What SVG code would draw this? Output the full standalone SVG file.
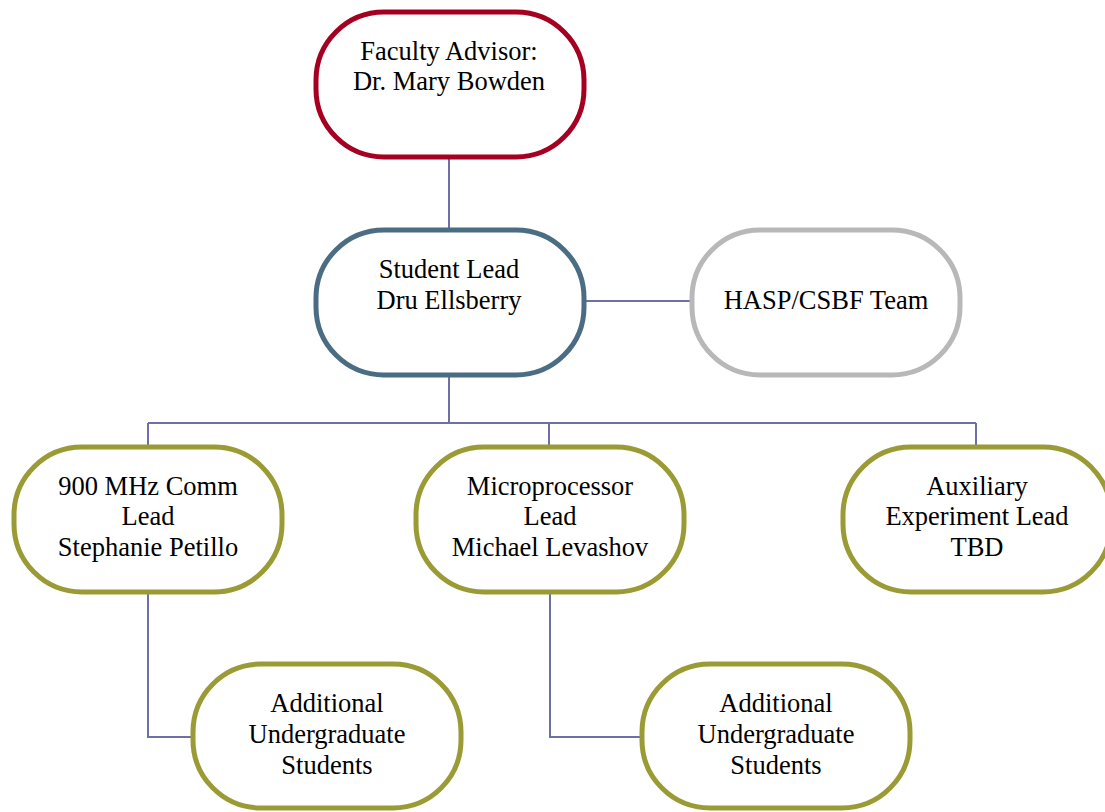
<svg xmlns="http://www.w3.org/2000/svg" width="1105" height="812" viewBox="0 0 1105 812">
<style>
.box{fill:#fff;stroke-width:5}
.red{stroke:#A50021}
.slate{stroke:#4B6D83}
.gray{stroke:#B8B8B8}
.olive{stroke:#9B9B35}
.t{font-family:"Liberation Serif","Times New Roman",serif;font-size:26.5px;fill:#000;text-anchor:middle}
.c{fill:none;stroke:#6E6EA8;stroke-width:2}
</style>
<rect width="1105" height="812" fill="#fff"/>
<g id="connectors">
<path class="c" d="M449,157V230"/>
<path class="c" d="M584,301H690"/>
<path class="c" d="M449,375V423M148,423H976M148,423V446M549,423V446M976,423V446"/>
<path class="c" d="M148,592V737H192"/>
<path class="c" d="M550,592V737H641"/>
</g>
<g id="faculty">
<rect class="box red" x="316" y="12" width="268" height="145" rx="68"/>
<text class="t" x="449" y="60">Faculty Advisor:</text>
<text class="t" x="449" y="90">Dr. Mary Bowden</text>
</g>
<g id="student-lead">
<rect class="box slate" x="316" y="230" width="268" height="145" rx="68"/>
<text class="t" x="449" y="278">Student Lead</text>
<text class="t" x="449" y="309">Dru Ellsberry</text>
</g>
<g id="hasp">
<rect class="box gray" x="692" y="230" width="268" height="145" rx="68"/>
<text class="t" x="826" y="309">HASP/CSBF Team</text>
</g>
<g id="comm">
<rect class="box olive" x="14" y="447" width="268" height="145" rx="68"/>
<text class="t" x="148" y="495">900 MHz Comm</text>
<text class="t" x="148" y="525">Lead</text>
<text class="t" x="148" y="556">Stephanie Petillo</text>
</g>
<g id="micro">
<rect class="box olive" x="416" y="447" width="268" height="145" rx="68"/>
<text class="t" x="550" y="495">Microprocessor</text>
<text class="t" x="550" y="525">Lead</text>
<text class="t" x="550" y="556">Michael Levashov</text>
</g>
<g id="aux">
<rect class="box olive" x="843" y="447" width="268" height="145" rx="68"/>
<text class="t" x="977" y="495">Auxiliary</text>
<text class="t" x="977" y="525">Experiment Lead</text>
<text class="t" x="977" y="556">TBD</text>
</g>
<g id="add1">
<rect class="box olive" x="193" y="664" width="268" height="144" rx="68"/>
<text class="t" x="327" y="712">Additional</text>
<text class="t" x="327" y="743">Undergraduate</text>
<text class="t" x="327" y="774">Students</text>
</g>
<g id="add2">
<rect class="box olive" x="642" y="664" width="268" height="144" rx="68"/>
<text class="t" x="776" y="712">Additional</text>
<text class="t" x="776" y="743">Undergraduate</text>
<text class="t" x="776" y="774">Students</text>
</g>
</svg>
